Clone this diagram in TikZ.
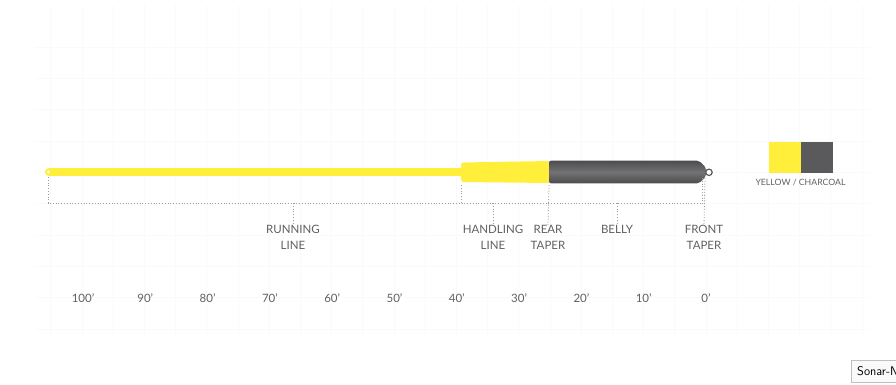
\documentclass[tikz,border=0pt]{standalone}
\usepackage{fontspec}
\setmainfont{Lato}
\usepackage{tikz}
\usetikzlibrary{positioning}
\definecolor{flyyellow}{HTML}{FFEF3A}
\definecolor{charcoal}{HTML}{5A5A5C}
\definecolor{labelgray}{HTML}{606060}
\definecolor{guidegray}{HTML}{9A9A9A}

\begin{document}
\begin{tikzpicture}[
  x=1pt, y=-1pt,
  lbl/.style={font=\fontsize{11.5}{16}\selectfont,text=labelgray,align=center,inner sep=0pt,anchor=north},
  feet/.style={font=\fontsize{11.5}{14}\selectfont,text=labelgray,inner sep=0pt},
  guide/.style={guidegray,line width=0.8pt,dash pattern=on 1pt off 1.8pt},
  swatch/.style={minimum width=32pt,minimum height=31pt,inner sep=0pt,outer sep=0pt}
]
  \useasboundingbox (0,0) rectangle (896,384);
  % faint background grid
  \foreach \gx in {0,...,26}
    \draw[black!2] ({50.5+31.2*\gx},5) -- ({50.5+31.2*\gx},337);
  \foreach \gy in {0,...,9}
    \draw[black!2] (35,{47+31.3*\gy}) -- (870,{47+31.3*\gy});

  % the line itself
  \draw[flyyellow,line width=8pt,line cap=round] (49,172) -- (463,172);
  \fill[white] (48.5,172) circle (1.6);
  \fill[flyyellow,rounded corners=2.5pt] (461,162.5) -- (550,161) -- (550,183) -- (461,182) -- cycle;
  \shade[top color=charcoal!85!black,bottom color=charcoal!85!black,middle color=charcoal!85!white,
         rounded corners=2pt]
    (549,160.7) -- (699,160.7) -- (706,167.5) -- (706,176.5) -- (699,183.3) -- (549,183.3) -- cycle;
  \draw[charcoal,line width=1.2pt,fill=white] (709,172.3) circle (3.2);

  % segment labels
  \node[lbl] (running)  at (293,225) {RUNNING\\LINE};
  \node[lbl] (handling) at (493,225) {HANDLING\\LINE};
  \node[lbl] (rear)     at (548,225) {REAR\\TAPER};
  \node[lbl] (belly)    at (617,225) {BELLY};
  \node[lbl] (front)    at (704,225) {FRONT\\TAPER};

  % guide bracket
  \coordinate (brk-l) at (48,203);
  \coordinate (brk-r) at (705,203);
  \draw[guide] (48,177) -- (brk-l) -- (brk-r);
  \draw[guide] (461,185) -- (461,203);
  \draw[guide] (549,185) -- (rear.north);
  \draw[guide] (702,178) -- (702,203);
  \draw[guide] (705,178) -- (front.north);
  \draw[guide] (running.north |- brk-l) -- (running.north);
  \draw[guide] (handling.north |- brk-l) -- (handling.north);
  \draw[guide] (belly.north |- brk-l) -- (belly.north);

  % length scale
  \foreach \ft [count=\i from 0] in {100,90,80,70,60,50,40,30,20,10,0}
    \node[feet] (ft\ft) at ({83+62.3*\i},298) {\ft’};

  % colour legend
  \node[swatch,fill=flyyellow] (yel) at (785,157) {};
  \node[swatch,fill=charcoal,right=0pt of yel] (char) {};
  \node[font=\fontsize{8.7}{10}\selectfont,text=labelgray,inner sep=0pt] (legend) at (800.5,182) {YELLOW / CHARCOAL};

  % browser tooltip
  \node[draw=black!25,fill=black!2,anchor=north west,minimum height=22pt,inner xsep=6pt,
        font=\fontsize{12.5}{14}\selectfont\sffamily] (tip) at (851,360) {Sonar-N\hspace{20pt}};
\end{tikzpicture}
\end{document}
